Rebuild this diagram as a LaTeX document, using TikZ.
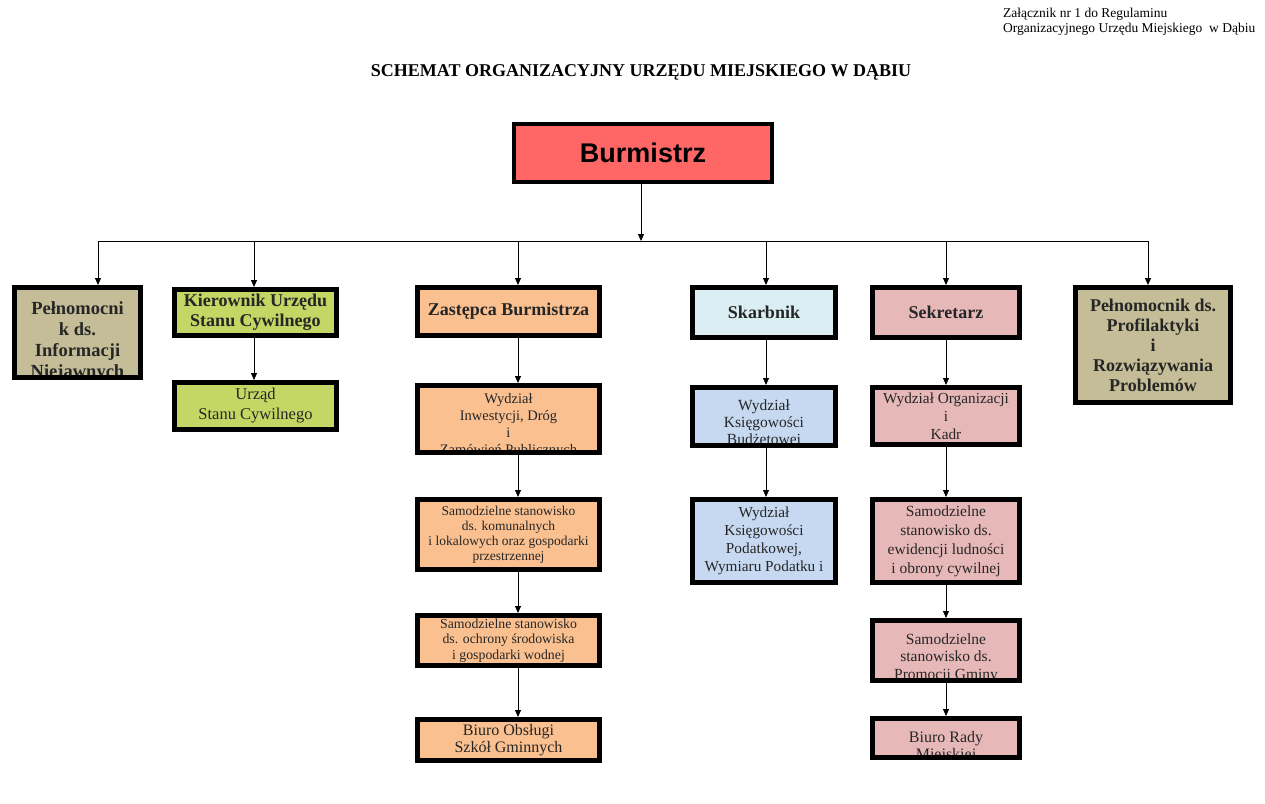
\documentclass[tikz,border=0pt]{standalone}
\usepackage{fontspec}
\setmainfont{Liberation Serif}
\newfontfamily\arialfont{Liberation Sans}
\usetikzlibrary{arrows.meta}

\definecolor{burmred}{RGB}{255,102,102}
\definecolor{olivebox}{RGB}{196,189,151}
\definecolor{limebox}{RGB}{196,214,100}
\definecolor{peachbox}{RGB}{250,192,144}
\definecolor{cyanbox}{RGB}{218,238,243}
\definecolor{bluebox}{RGB}{198,217,241}
\definecolor{pinkbox}{RGB}{230,185,184}

\tikzset{
  box/.style={draw=black,line width=5pt,inner sep=2pt,align=center,text=black!85},
  chief/.style={box,font=\bfseries\fontsize{18}{20}\selectfont},
  unit/.style={box,font=\fontsize{14}{15}\selectfont},
  cut/.style n args={3}{path picture={
    \clip ([shift={(2.5pt,-2.5pt)}]path picture bounding box.north west) rectangle ([shift={(-2.5pt,2.5pt)}]path picture bounding box.south east);
    \node[anchor=north,align=center,inner sep=0pt,text=black!85,font=#1] at ([yshift=-#2]path picture bounding box.north) {#3};}},
  link/.style={-{Triangle[length=7pt,width=6pt]},line width=0.8pt}
}

\begin{document}
\begin{tikzpicture}[x=1pt,y=-1pt]
      \useasboundingbox (0,0) rectangle (1265,803);
      \node[anchor=north west,align=left,inner sep=0pt,font=\fontsize{13.5}{15}\selectfont] (annex) at (1003,8) {Załącznik nr 1 do Regulaminu\\Organizacyjnego Urzędu Miejskiego \ w Dąbiu};
      \node[font=\bfseries\fontsize{18}{20}\selectfont] (title) at (641,72) {SCHEMAT ORGANIZACYJNY URZĘDU MIEJSKIEGO W DĄBIU};

      \node[box,fill=burmred,line width=4pt,minimum width=258pt,minimum height=58pt,font=\arialfont\bfseries\fontsize{27}{30}\selectfont,text=black] (burm) at (643,153) {Burmistrz};

      % first row
      \node[box,fill=olivebox,minimum width=126pt,minimum height=90pt,
            cut={\bfseries\fontsize{18.5}{21}\selectfont}{7pt}{Pełnomocni\\k ds.\\Informacji\\Niejawnych}] (inf) at (77.5,332.5) {};
      \node[chief,fill=limebox,minimum width=162pt,minimum height=46pt] (kier) at (255.5,312.5) {Kierownik Urzędu\\Stanu Cywilnego};
      \node[chief,fill=peachbox,minimum width=182pt,minimum height=48pt] (zast) at (508.5,311.5) {Zastępca Burmistrza};
      \node[chief,fill=cyanbox,minimum width=143pt,minimum height=50pt] (skarb) at (764,312.5) {Skarbnik};
      \node[chief,fill=pinkbox,minimum width=147pt,minimum height=50pt] (sekr) at (946,312.5) {Sekretarz};
      \node[chief,fill=olivebox,minimum width=155pt,minimum height=115pt] (prof) at (1153,345) {Pełnomocnik ds.\\Profilaktyki\\i\\Rozwiązywania\\Problemów};

      % units
      \node[unit,fill=limebox,minimum width=162pt,minimum height=47pt,font=\fontsize{16.5}{20}\selectfont] (usc) at (255.5,406) {Urząd\\Stanu Cywilnego};

      \node[box,fill=peachbox,minimum width=182pt,minimum height=67pt,
            cut={\fontsize{14.5}{17}\selectfont}{4pt}{Wydział\\Inwestycji, Dróg\\i\\Zamówień Publicznych}] (inw) at (508.5,419) {};
      \node[unit,fill=peachbox,minimum width=182pt,minimum height=70pt,font=\fontsize{13.5}{15}\selectfont] (kom) at (508.5,534.5) {Samodzielne stanowisko\\ds. komunalnych\\i lokalowych oraz gospodarki\\przestrzennej};
      \node[unit,fill=peachbox,minimum width=182pt,minimum height=50pt,font=\fontsize{13.8}{15.5}\selectfont] (och) at (508.5,640.5) {Samodzielne stanowisko\\ds. ochrony środowiska\\i gospodarki wodnej};
      \node[unit,fill=peachbox,minimum width=182pt,minimum height=41pt,font=\fontsize{16}{17}\selectfont] (szk) at (508.5,740) {Biuro Obsługi\\Szkół Gminnych};

      \node[box,fill=bluebox,minimum width=143pt,minimum height=58pt,
            cut={\fontsize{15.5}{17}\selectfont}{5pt}{Wydział\\Księgowości\\Budżetowej}] (ksb) at (764,416.5) {};
      \node[unit,fill=bluebox,minimum width=143pt,minimum height=83pt,font=\fontsize{15.3}{18}\selectfont] (ksp) at (764,541) {Wydział\\Księgowości\\Podatkowej,\\Wymiaru Podatku i};

      \node[unit,fill=pinkbox,minimum width=147pt,minimum height=57pt,font=\fontsize{15.3}{18}\selectfont] (org) at (946,416) {Wydział Organizacji\\i\\Kadr};
      \node[unit,fill=pinkbox,minimum width=147pt,minimum height=83pt,font=\fontsize{15.5}{19}\selectfont] (ewi) at (946,541) {Samodzielne\\stanowisko ds.\\ewidencji ludności\\i obrony cywilnej};
      \node[box,fill=pinkbox,minimum width=147pt,minimum height=60pt,
            cut={\fontsize{15.5}{17.5}\selectfont}{5pt}{Samodzielne\\stanowisko ds.\\Promocji Gminy}] (pro) at (946,650.5) {};
      \node[box,fill=pinkbox,minimum width=147pt,minimum height=39pt,
            cut={\fontsize{16}{17}\selectfont}{6.5pt}{Biuro Rady\\Miejskiej}] (rad) at (946,738) {};

      % bus line
      \coordinate (bus) at (641,241);
      \coordinate (d1) at (98,241);
      \coordinate (d2) at (254,241);
      \coordinate (d3) at (518,241);
      \coordinate (d4) at (766,241);
      \coordinate (d5) at (946,241);
      \coordinate (d6) at (1148,241);
      \path [link] (burm.south -| bus) edge (bus);
      \draw[line width=0.8pt] (d1) -- (d6);
      \path [link] (d1) edge (d1 |- inf.north);
      \path [link] (d2) edge (d2 |- kier.north);
      \path [link] (d3) edge (d3 |- zast.north);
      \path [link] (d4) edge (d4 |- skarb.north);
      \path [link] (d5) edge (d5 |- sekr.north);
      \path [link] (d6) edge (d6 |- prof.north);

      % columns
      \path [link] (kier.south -| d2) edge (usc.north -| d2);
      \path [link] (zast.south -| d3) edge (inw.north -| d3);
      \path [link] (inw.south -| d3) edge (kom.north -| d3);
      \path [link] (kom.south -| d3) edge (och.north -| d3);
      \path [link] (och.south -| d3) edge (szk.north -| d3);
      \path [link] (skarb.south -| d4) edge (ksb.north -| d4);
      \path [link] (ksb.south -| d4) edge (ksp.north -| d4);
      \path [link] (sekr.south -| d5) edge (org.north -| d5);
      \path [link] (org.south -| d5) edge (ewi.north -| d5);
      \path [link] (ewi.south -| d5) edge (pro.north -| d5);
      \path [link] (pro.south -| d5) edge (rad.north -| d5);
\end{tikzpicture}
\end{document}
